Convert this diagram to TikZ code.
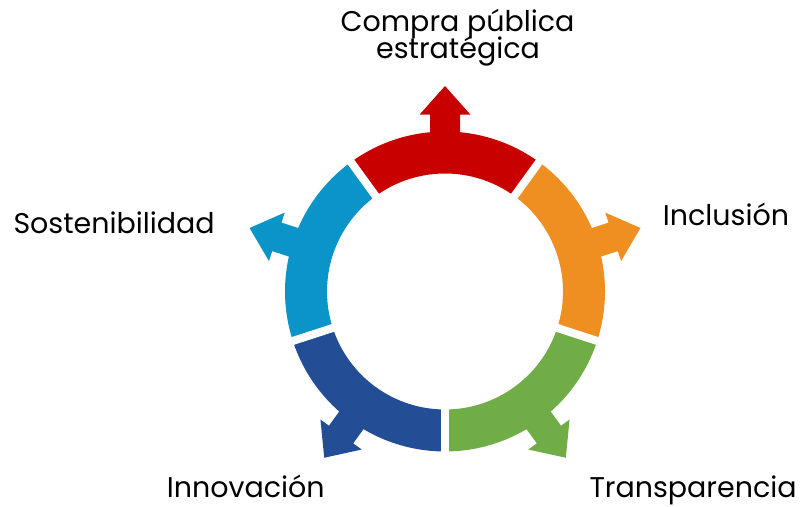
\documentclass[tikz,border=0pt]{standalone}
\usepackage{fontspec}
\setmainfont{Poppins}
\definecolor{cred}{RGB}{200,0,0}
\definecolor{corange}{RGB}{239,143,34}
\definecolor{cgreen}{RGB}{112,173,71}
\definecolor{cdblue}{RGB}{35,78,150}
\definecolor{clblue}{RGB}{11,148,200}
\begin{document}
\begin{tikzpicture}[x=1pt,y=1pt,
  lbl/.style={inner sep=0pt, font=\fontsize{28.5}{28.5}\selectfont, text=black}]
\useasboundingbox (0,0) rectangle (802,506);
\coordinate (c) at (445,214.5);
% ring segments
\foreach \a/\b/\col in {54/126/cred, 126/198/clblue, 198/270/cdblue, 270/342/cgreen, -18/54/corange}
  \draw[\col, line width=42pt] (c) ++(\a:139) arc[start angle=\a, end angle=\b, radius=139];
% outward arrows
\foreach \t/\col in {90/cred, 162/clblue, 234/cdblue, 306/cgreen, 18/corange}
  \fill[\col, shift={(c)}, rotate=\t] (150,-15) -- (176.8,-15) -- (176.8,-25.5) -- (205.5,0)
      -- (176.8,25.5) -- (176.8,15) -- (150,15) -- cycle;
% gaps
\foreach \b in {54,126,198,270,342}
  \draw[white, line width=8pt] (c) ++(\b:108) -- ++(\b:62);
% labels
\node[lbl, anchor=base] (t1) at (457.5,474.3) {Compra pública};
\node[lbl, anchor=base] (t2) at (458,447) {estratégica};
\node[lbl, anchor=base west] (incl) at (662.7,280) {Inclusión};
\node[lbl, anchor=base west] (sost) at (13.3,272.7) {Sostenibilidad};
\node[lbl, anchor=base west] (inno) at (166.7,9) {Innovación};
\node[lbl, anchor=base west] (tran) at (589.3,9) {Transparencia};
\end{tikzpicture}
\end{document}
